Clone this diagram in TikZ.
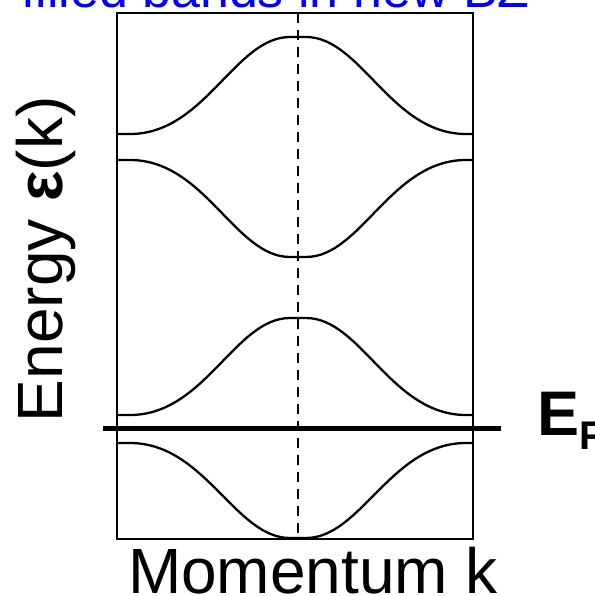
\documentclass[tikz,border=0pt]{standalone}
\usepackage{fontspec}
\setmainfont{Liberation Sans}
\begin{document}
\begin{tikzpicture}[x=1pt,y=-1pt,
  band/.style={line width=2.3pt, line join=round},
  frame/.style={line width=2pt},
  txt/.style={inner sep=0pt, outer sep=0pt}]
\useasboundingbox (0,0) rectangle (594,596);
% title (cut off at top)
\node[txt, anchor=base west, text={rgb,255:red,0;green,0;blue,255}, font=\fontsize{52}{52}\selectfont] (title) at (21,7.5) {filled bands in new BZ};
% frame
\draw[frame] (117,13) rectangle (473,539);
% k=0 dashed line
\coordinate (dtop) at (298,13);
\coordinate (dbot) at (298,539);
\draw[line width=2pt, dash pattern=on 10pt off 7pt] (dtop) -- (dbot);
% bands
\newcommand\bandpath[2]{%
  \draw[band] (118,#1) -- (130,#1) .. controls (205,#1) and (235,#2) .. (290,#2) -- (306,#2)
    .. controls (361,#2) and (391,#1) .. (466,#1) -- (472,#1);}
\bandpath{134}{37}
\bandpath{160}{257}
\bandpath{415}{318}
\bandpath{443}{538}
% Fermi level
\coordinate (efl) at (103,428);
\coordinate (efr) at (501,428);
\draw[line width=5pt] (efl) -- (efr);
\node[txt, anchor=base west, font=\fontsize{63}{63}\selectfont\bfseries] (ef) at (537,435) {E};
\node[txt, anchor=base west, font=\fontsize{40}{40}\selectfont\bfseries] (efsub) at (579,449) {F};
% axis labels
\node[txt, anchor=base west, font=\fontsize{64}{64}\selectfont] (mom) at (128,593) {Momentum k};
\node[txt, anchor=base west, rotate=90, font=\fontsize{64}{64}\selectfont] (en) at (62,422) {Energy \textbf{ε}(k)};
\end{tikzpicture}
\end{document}
